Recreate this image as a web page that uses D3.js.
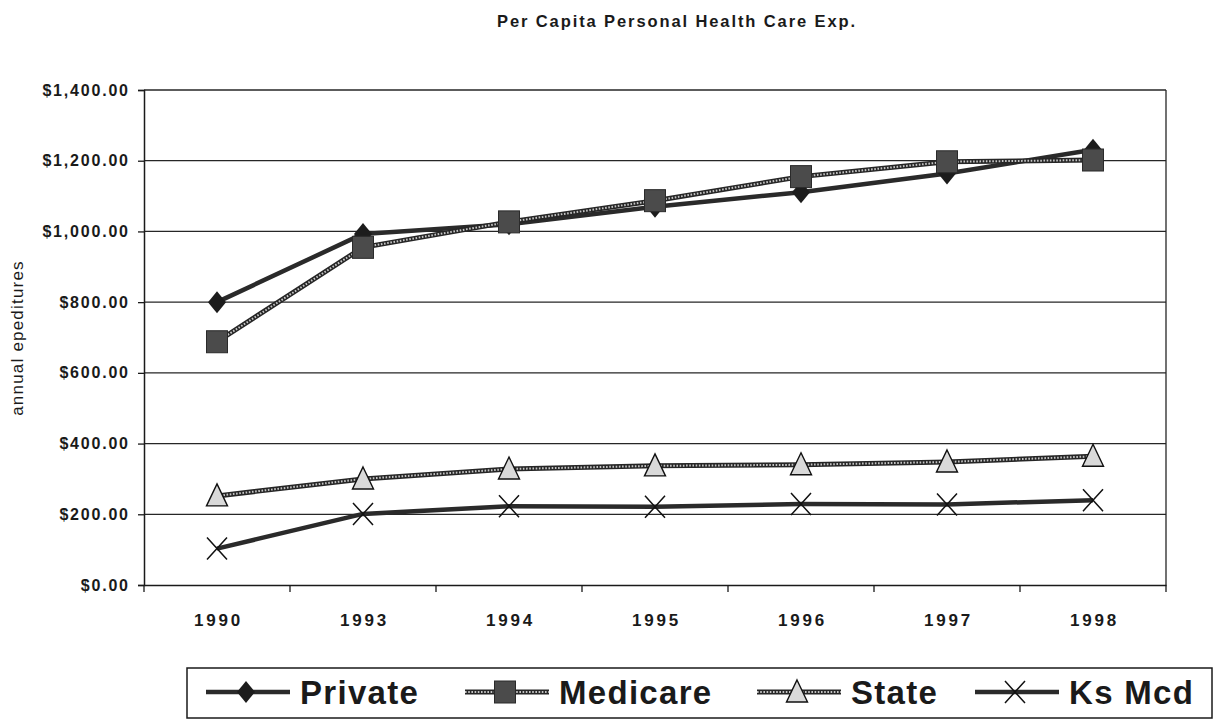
<!DOCTYPE html>
<html>
<head>
<meta charset="utf-8">
<script src="https://cdn.jsdelivr.net/npm/d3@7/dist/d3.min.js"></script>
<style>
  html, body { margin: 0; padding: 0; background: #fff; }
  svg { display: block; font-family: Arial, "Liberation Sans", sans-serif; }
</style>
</head>
<body>
<svg id="chart" width="1214" height="719"></svg>
<script>
// Per capita personal health care expenditures by payer
const years = ["1990", "1993", "1994", "1995", "1996", "1997", "1998"];
const privateVals  = [800, 993, 1020, 1070, 1111, 1164, 1231];
const medicareVals = [688, 955, 1027, 1087, 1155, 1197, 1202];
const stateVals    = [252, 300, 328, 337, 340, 348, 364];
const ksMcdVals    = [103, 201, 223, 221, 229, 228, 240];
const yTicks = [0, 200, 400, 600, 800, 1000, 1200, 1400];
const seriesNames = ["Private", "Medicare", "State", "Ks Mcd"];

const svg = d3.select("#chart");
const plot = { left: 144, right: 1166, top: 90, bottom: 585 };

const x = d3.scaleBand().domain(years).range([plot.left, plot.right]);
const y = d3.scaleLinear().domain([0, 1400]).range([plot.bottom, plot.top]);
const fmt = d3.format("$,.2f");

const INK = "#1a1a1a";
const FONT = "Arial, 'Liberation Sans', sans-serif";

// Title
svg.append("text")
  .attr("x", 677).attr("y", 27)
  .attr("text-anchor", "middle")
  .attr("font-size", 16.5).attr("font-weight", "bold")
  .attr("letter-spacing", 1.9)
  .attr("fill", INK)
  .text("Per Capita Personal Health Care Exp.");

// Horizontal gridlines
svg.append("g")
  .selectAll("line")
  .data(yTicks.filter(d => d > 0))
  .join("line")
  .attr("x1", plot.left).attr("x2", plot.right)
  .attr("y1", d => y(d)).attr("y2", d => y(d))
  .attr("stroke", "#262626").attr("stroke-width", 1.3);

// Right border of the plot area
svg.append("line")
  .attr("x1", plot.right).attr("x2", plot.right)
  .attr("y1", plot.top).attr("y2", plot.bottom)
  .attr("stroke", "#262626").attr("stroke-width", 1.3);

// Y axis
const yAxis = svg.append("g")
  .attr("transform", `translate(${plot.left},0)`)
  .call(d3.axisLeft(y).tickValues(yTicks).tickFormat(fmt).tickSize(6).tickPadding(10));
yAxis.select(".domain").attr("stroke", INK).attr("stroke-width", 1.5);
yAxis.selectAll(".tick line").attr("stroke", INK).attr("stroke-width", 1.3);
yAxis.selectAll(".tick text")
  .attr("font-size", 16).attr("font-weight", "bold")
  .attr("letter-spacing", 1.8).attr("dx", 1.8)
  .attr("fill", INK)
  .attr("font-family", FONT);

// X axis: baseline, category-boundary ticks, centred labels
const xAxis = svg.append("g")
  .attr("transform", `translate(0,${plot.bottom})`)
  .call(d3.axisBottom(x).tickSize(0).tickPadding(29));
xAxis.select(".domain").attr("stroke", INK).attr("stroke-width", 1.5);
xAxis.selectAll(".tick text")
  .attr("font-size", 17).attr("font-weight", "bold")
  .attr("letter-spacing", 2.8).attr("dx", 1.4)
  .attr("fill", INK)
  .attr("font-family", FONT);
const edges = years.map(d => x(d)).concat([x(years[years.length - 1]) + x.bandwidth()]);
svg.append("g")
  .selectAll("line")
  .data(edges)
  .join("line")
  .attr("x1", d => d).attr("x2", d => d)
  .attr("y1", plot.bottom).attr("y2", plot.bottom + 7)
  .attr("stroke", INK).attr("stroke-width", 1.3);

// Y axis title
svg.append("text")
  .attr("transform", `translate(23,338) rotate(-90)`)
  .attr("text-anchor", "middle")
  .attr("font-size", 17)
  .attr("letter-spacing", 1.2)
  .attr("fill", INK)
  .text("annual epeditures");

// Marker shapes
function diamond(g, cx, cy) {
  g.append("path")
    .attr("d", `M${cx},${cy - 11}L${cx + 9},${cy}L${cx},${cy + 11}L${cx - 9},${cy}Z`)
    .attr("fill", "#1c1c1c");
}
function square(g, cx, cy) {
  g.append("rect")
    .attr("x", cx - 10.5).attr("y", cy - 11).attr("width", 21).attr("height", 22)
    .attr("fill", "#4b4b4b").attr("stroke", "#2a2a2a").attr("stroke-width", 1);
}
function triangle(g, cx, cy) {
  g.append("path")
    .attr("d", `M${cx},${cy - 12}L${cx + 10.5},${cy + 10}L${cx - 10.5},${cy + 10}Z`)
    .attr("fill", "#d9d9d9").attr("stroke", "#111").attr("stroke-width", 1.4);
}
function cross(g, cx, cy) {
  g.append("path")
    .attr("d", `M${cx - 10},${cy - 11}L${cx + 10},${cy + 11}M${cx + 10},${cy - 11}L${cx - 10},${cy + 11}`)
    .attr("stroke", "#111").attr("stroke-width", 1.5).attr("fill", "none");
}

// Line styles: solid dark, or a hatched "ladder" stroke
function drawLine(g, pathD, style) {
  if (style === "solid") {
    g.append("path").attr("d", pathD).attr("fill", "none")
      .attr("stroke", "#2a2a2a").attr("stroke-width", 4.5).attr("stroke-linejoin", "round");
  } else {
    g.append("path").attr("d", pathD).attr("fill", "none")
      .attr("stroke", "#262626").attr("stroke-width", 5).attr("stroke-linejoin", "round");
    g.append("path").attr("d", pathD).attr("fill", "none")
      .attr("stroke", "#c4c4c4").attr("stroke-width", 2).attr("stroke-dasharray", "1.6 1.6");
  }
}

const series = [
  { name: seriesNames[0], values: privateVals,  style: "solid",   marker: diamond },
  { name: seriesNames[1], values: medicareVals, style: "hatched", marker: square },
  { name: seriesNames[2], values: stateVals,    style: "hatched", marker: triangle },
  { name: seriesNames[3], values: ksMcdVals,    style: "solid",   marker: cross }
];

const cx = d => x(d) + x.bandwidth() / 2;
const line = d3.line().x(d => cx(d.year)).y(d => y(d.v));

const marks = svg.append("g");
series.forEach(s => {
  const pts = years.map((yr, i) => ({ year: yr, v: s.values[i] }));
  const g = marks.append("g");
  drawLine(g, line(pts), s.style);
  pts.forEach(p => s.marker(g, cx(p.year), y(p.v)));
});

// Legend
const legend = svg.append("g");
legend.append("rect")
  .attr("x", 187).attr("y", 668).attr("width", 1025).attr("height", 50)
  .attr("fill", "#fff").attr("stroke", INK).attr("stroke-width", 1.5);

const legendX = [206, 465, 757, 975];
series.forEach((s, i) => {
  const g = legend.append("g");
  const x0 = legendX[i], ly = 692;
  drawLine(g, `M${x0},${ly}L${x0 + 84},${ly}`, s.style);
  s.marker(g, x0 + 40, ly);
  g.append("text")
    .attr("x", x0 + 94).attr("y", ly + 12)
    .attr("font-size", 33).attr("font-weight", "bold")
    .attr("letter-spacing", 1.3)
    .attr("fill", INK)
    .text(s.name);
});
</script>
</body>
</html>
